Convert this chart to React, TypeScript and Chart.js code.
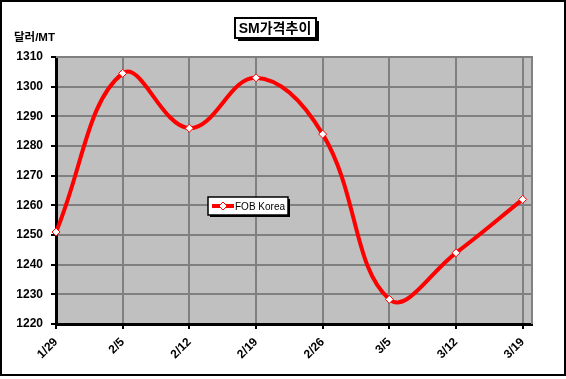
import React, { useEffect, useRef } from "react";
import { Chart, registerables } from "chart.js";

Chart.register(...registerables);

const categories = ["1/29", "2/5", "2/12", "2/19", "2/26", "3/5", "3/12", "3/19"];
const fobKorea = [1251, 1304.5, 1286, 1303, 1284, 1228.3, 1244, 1262];
const seriesName = "FOB Korea";
const chartTitle = "SM가격추이";
const yAxisTitle = "달러/MT";
const yMin = 1220;
const yMax = 1310;
const yStep = 10;

const FONT = "'Liberation Sans', Arial, 'Noto Sans CJK KR', sans-serif";

const decorPlugin = {
  id: "decor",
  beforeDraw(chart: any) {
    const { ctx, chartArea: a } = chart;
    ctx.save();
    ctx.fillStyle = "#ffffff";
    ctx.fillRect(0, 0, chart.width, chart.height);
    ctx.fillStyle = "#c0c0c0";
    ctx.fillRect(a.left, a.top, a.right - a.left, a.bottom - a.top);
    ctx.restore();
  },
  beforeDatasetsDraw(chart: any) {
    const { ctx, chartArea: a } = chart;
    ctx.save();
    ctx.strokeStyle = "#808080";
    ctx.lineWidth = 2;
    ctx.beginPath();
    ctx.moveTo(a.left, a.top);
    ctx.lineTo(a.right, a.top);
    ctx.lineTo(a.right, a.bottom);
    ctx.stroke();
    ctx.restore();
  },
  afterDraw(chart: any) {
    const { ctx } = chart;
    ctx.save();
    // outer border
    ctx.strokeStyle = "#000";
    ctx.lineWidth = 2;
    ctx.strokeRect(1, 1, chart.width - 2, chart.height - 5);

    // title box
    ctx.font = `bold 14px ${FONT}`;
    const tw = ctx.measureText(chartTitle).width;
    const cx = 275;
    const bx = Math.round(cx - tw / 2 - 4);
    const bw = Math.round(tw + 8);
    const by = 18;
    const bh = 20;
    ctx.fillStyle = "#000";
    ctx.fillRect(bx + 3, by + 3, bw, bh);
    ctx.fillStyle = "#fff";
    ctx.fillRect(bx, by, bw, bh);
    ctx.strokeStyle = "#000";
    ctx.lineWidth = 2;
    ctx.strokeRect(bx, by, bw, bh);
    ctx.fillStyle = "#000";
    ctx.textBaseline = "middle";
    ctx.textAlign = "center";
    ctx.fillText(chartTitle, cx, by + bh / 2 + 1);

    // y axis title
    ctx.font = `bold 11.5px ${FONT}`;
    ctx.textAlign = "left";
    ctx.fillText(yAxisTitle, 14, 38);

    // legend box
    ctx.font = `10px ${FONT}`;
    const ltw = ctx.measureText(seriesName).width;
    const lx = 208, ly = 197, lh = 18;
    const lw = Math.round(27 + ltw + 3);
    ctx.fillStyle = "#000";
    ctx.fillRect(lx + 2, ly + 2, lw, lh);
    ctx.fillStyle = "#fff";
    ctx.fillRect(lx, ly, lw, lh);
    ctx.lineWidth = 1.5;
    ctx.strokeRect(lx, ly, lw, lh);
    ctx.strokeStyle = "#ff0000";
    ctx.lineWidth = 4;
    ctx.beginPath();
    ctx.moveTo(lx + 4, ly + lh / 2);
    ctx.lineTo(lx + 26, ly + lh / 2);
    ctx.stroke();
    const dx = lx + 15, dy = ly + lh / 2;
    ctx.beginPath();
    ctx.moveTo(dx, dy - 4);
    ctx.lineTo(dx + 4, dy);
    ctx.lineTo(dx, dy + 4);
    ctx.lineTo(dx - 4, dy);
    ctx.closePath();
    ctx.fillStyle = "#fff";
    ctx.fill();
    ctx.strokeStyle = "#ff0000";
    ctx.lineWidth = 1;
    ctx.stroke();
    ctx.fillStyle = "#000";
    ctx.textAlign = "left";
    ctx.fillText(seriesName, lx + 27, ly + lh / 2 + 1);
    ctx.restore();
  },
};

export default function App() {
  const ref = useRef<HTMLCanvasElement | null>(null);
  useEffect(() => {
    document.body.style.margin = "0";
    const canvas = ref.current;
    if (!canvas) return;
    const chart = new Chart(canvas, {
      type: "line",
      data: {
        datasets: [
          {
            label: seriesName,
            data: fobKorea.map((v, i) => ({ x: i, y: v })),
            borderColor: "#ff0000",
            borderWidth: 4,
            tension: 0.4,
            pointStyle: "rectRot",
            pointRadius: 4,
            pointBackgroundColor: "#ffffff",
            pointBorderColor: "#ff0000",
            pointBorderWidth: 1,
            clip: false as any,
          },
        ],
      },
      options: {
        responsive: false,
        animation: false,
        layout: { padding: { left: 0, top: 57, right: 34, bottom: 0 } },
        plugins: {
          legend: { display: false },
          title: { display: false },
          tooltip: { enabled: false },
        },
        scales: {
          x: {
            type: "linear",
            min: 0,
            max: 7.14,
            afterFit: (s: any) => {
              s.height = 55;
              s.paddingLeft = 0;
              s.paddingRight = 0;
            },
            afterBuildTicks: (s: any) => {
              s.ticks = categories.map((_, i) => ({ value: i }));
            },
            ticks: {
              autoSkip: false,
              minRotation: 45,
              maxRotation: 45,
              padding: 6,
              color: "#000",
              font: { family: FONT, size: 12, weight: "bold" },
              callback: (v: any) => categories[Math.round(v)] ?? "",
            },
            grid: {
              color: "#808080",
              lineWidth: 2,
              tickLength: 5,
              tickColor: "#000",
              tickWidth: 2,
            },
            border: { color: "#000", width: 3 },
          },
          y: {
            min: yMin,
            max: yMax,
            afterFit: (s: any) => {
              s.width = 56;
            },
            ticks: {
              stepSize: yStep,
              padding: 8,
              color: "#000",
              font: { family: FONT, size: 12, weight: "bold" },
              callback: (v: any) => String(v),
            },
            grid: {
              color: "#808080",
              lineWidth: 2,
              tickLength: 5,
              tickColor: "#000",
              tickWidth: 2,
            },
            border: { color: "#000", width: 3 },
          },
        },
      },
      plugins: [decorPlugin],
    } as any);
    return () => chart.destroy();
  }, []);
  return (
    <div style={{ position: "absolute", left: 0, top: 0, width: 566, height: 379 }}>
      <canvas ref={ref} width={566} height={379} />
    </div>
  );
}
